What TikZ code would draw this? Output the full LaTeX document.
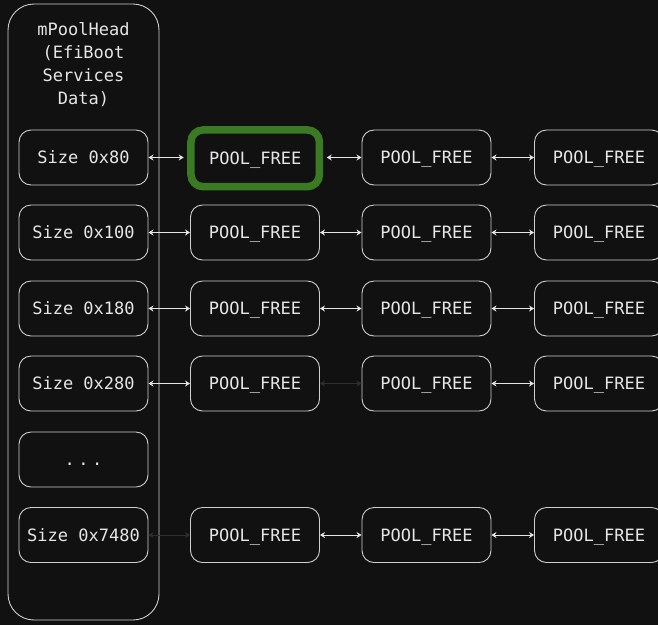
\documentclass[tikz,border=0pt]{standalone}
\usepackage{fontspec}
\setmonofont{DejaVu Sans Mono}
\usetikzlibrary{arrows.meta}
\definecolor{bg}{HTML}{111111}
\definecolor{edge}{HTML}{CFCFCF}
\definecolor{ink}{HTML}{E6E6E6}
\definecolor{hilite}{HTML}{3A7A22}
\definecolor{faint}{HTML}{2E2E2E}
\tikzset{
  boxfont/.style={text=ink, font=\ttfamily\fontsize{17}{23}\selectfont,
    text height=12.4pt, text depth=0pt},
  cell/.style={draw=edge, line width=0.9pt, rounded corners=12pt,
    minimum width=129pt, minimum height=55pt, inner sep=0pt, boxfont},
  link/.style={draw=ink, line width=0.9pt,
    {Stealth[length=5pt,width=6pt]}-{Stealth[length=5pt,width=6pt]}},
  faintlink/.style={link, draw=faint},
  chosen/.style={draw=hilite, line width=7.5pt, rounded corners=12pt,
    minimum width=128.5pt, minimum height=56.7pt, inner sep=0pt, boxfont},
}
\begin{document}
\begin{tikzpicture}[x=1pt, y=-1pt]
  \fill[bg] (0,0) rectangle (658,625);
  \useasboundingbox (0,0) rectangle (658,625);
  \clip (0,0) rectangle (658,625);

  % outer pool head container
  \draw[edge, line width=0.9pt, rounded corners=26pt] (8,4) rectangle (159,620);
  \node[text=ink, align=center, font=\ttfamily\fontsize{17}{23}\selectfont]
    (head) at (83.5,65) {mPoolHead\\(EfiBoot\\Services\\Data)};

  % size buckets
  \node[cell] (s1) at (83.5,157.5) {Size 0x80};
  \node[cell] (s2) at (83.5,232.5) {Size 0x100};
  \node[cell] (s3) at (83.5,308.5) {Size 0x180};
  \node[cell] (s4) at (83.5,383.5) {Size 0x280};
  \node[cell] (s5) at (83.5,459.5) {.\hspace{3.5pt}.\hspace{3.5pt}.};
  \node[cell] (s6) at (83.5,535) {Size 0x7480};

  % free lists
  \node[chosen] (a1) at (255.2,158.3) {POOL\_FREE};
  \node[cell] (b1) at (426.5,157.5) {POOL\_FREE};
  \node[cell] (c1) at (599,157.5) {POOL\_FREE};

  \node[cell] (a2) at (255,232.5) {POOL\_FREE};
  \node[cell] (b2) at (426.5,232.5) {POOL\_FREE};
  \node[cell] (c2) at (599,232.5) {POOL\_FREE};

  \node[cell] (a3) at (255,308.5) {POOL\_FREE};
  \node[cell] (b3) at (426.5,308.5) {POOL\_FREE};
  \node[cell] (c3) at (599,308.5) {POOL\_FREE};

  \node[cell] (a4) at (255,383.5) {POOL\_FREE};
  \node[cell] (b4) at (426.5,383.5) {POOL\_FREE};
  \node[cell] (c4) at (599,383.5) {POOL\_FREE};

  \node[cell] (a6) at (255,535) {POOL\_FREE};
  \node[cell] (b6) at (426.5,535) {POOL\_FREE};
  \node[cell] (c6) at (599,535) {POOL\_FREE};

  % links
  \draw[link] (s1.east) -- ([xshift=-3.5pt]a1.west |- s1.east);
  \draw[link] ([xshift=3.5pt]a1.east |- b1.west) -- (b1.west);
  \draw[link] (b1.east) -- (c1.west);

  \draw[link] (s2.east) -- (a2.west);
  \draw[link] (a2.east) -- (b2.west);
  \draw[link] (b2.east) -- (c2.west);

  \draw[link] (s3.east) -- (a3.west);
  \draw[link] (a3.east) -- (b3.west);
  \draw[link] (b3.east) -- (c3.west);

  \draw[link] (s4.east) -- (a4.west);
  \draw[faintlink] (a4.east) -- (b4.west);
  \draw[link] (b4.east) -- (c4.west);

  \draw[faintlink] (s6.east) -- (a6.west);
  \draw[link] (a6.east) -- (b6.west);
  \draw[link] (b6.east) -- (c6.west);
\end{tikzpicture}
\end{document}
